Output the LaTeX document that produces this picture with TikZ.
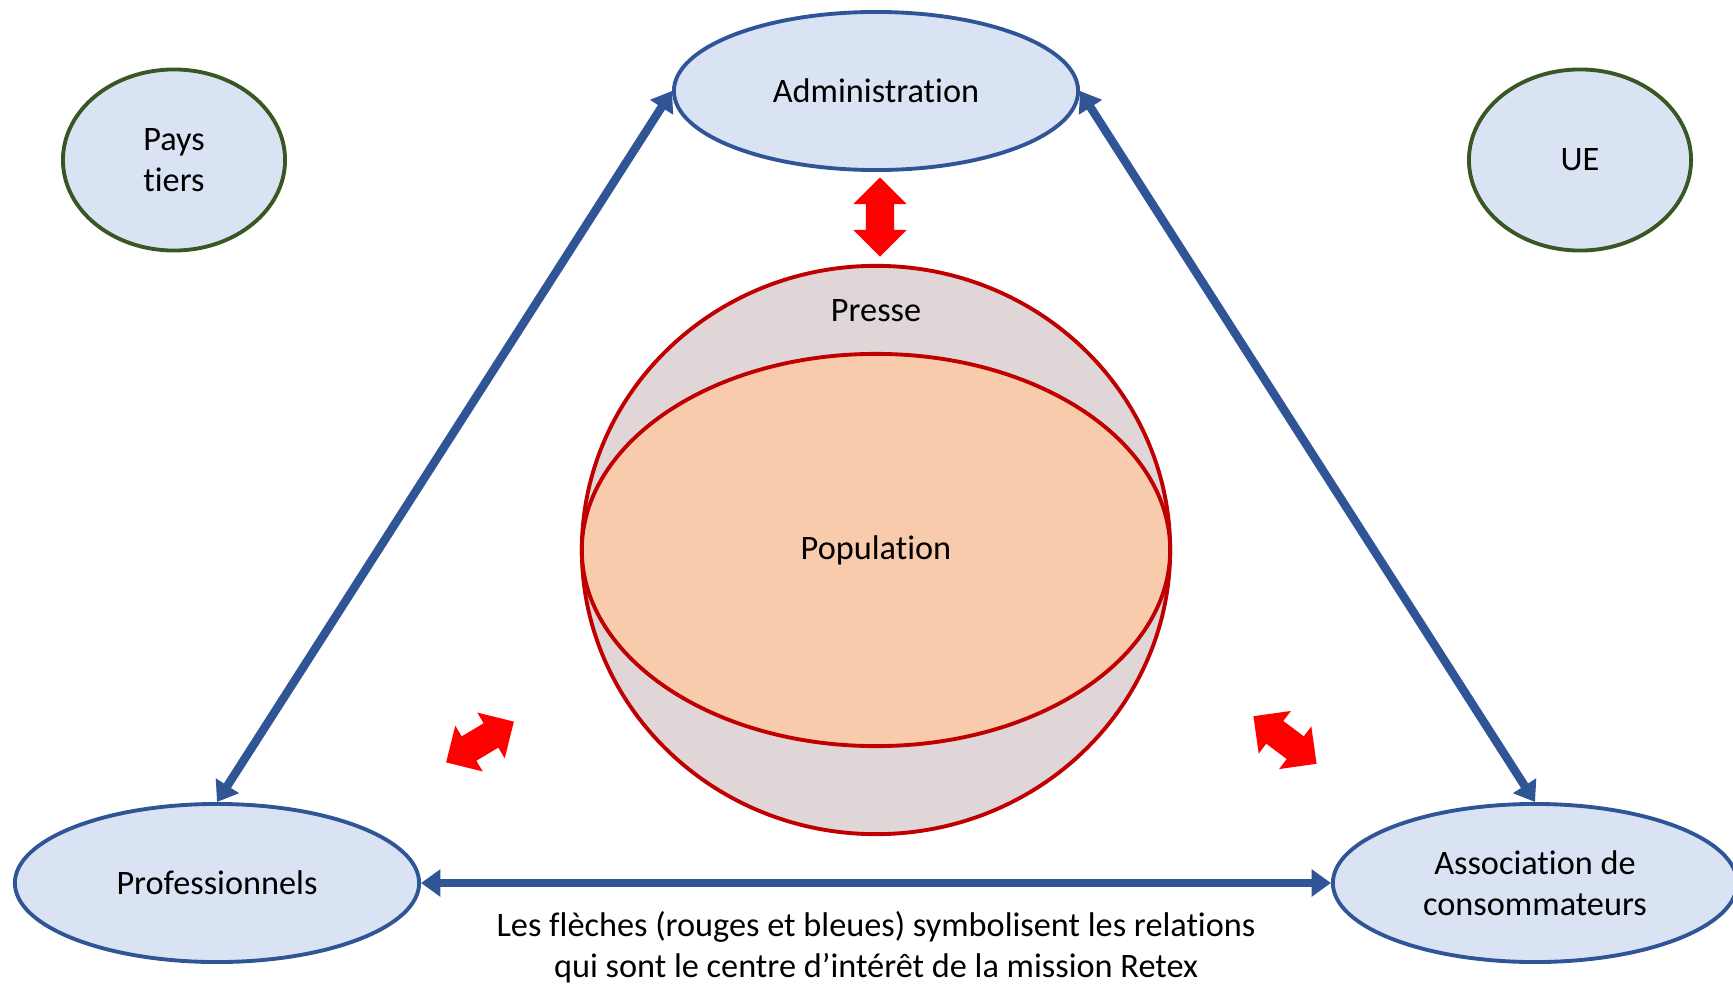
\documentclass[tikz,border=0pt]{standalone}
\usepackage{fontspec}
\setmainfont{Carlito}[Ligatures=NoCommon]
\usetikzlibrary{shapes.geometric,shapes.arrows,arrows.meta}
\definecolor{bordbleu}{HTML}{2F5597}
\definecolor{fondbleu}{HTML}{DAE3F3}
\definecolor{bordvert}{HTML}{385723}
\definecolor{fondpresse}{HTML}{E0D6D7}
\definecolor{fondpop}{HTML}{F8CBAD}
\definecolor{bordrouge}{HTML}{C00000}

\begin{document}
\begin{tikzpicture}[x=0.01cm, y=-0.01cm,
	every node/.style={font=\fontsize{9.75}{11.6}\selectfont, align=center, inner sep=0pt},
	acteur/.style={shape=ellipse, draw=bordbleu, fill=fondbleu, line width=1.1pt, minimum width=4.04cm, minimum height=1.58cm},
	externe/.style={shape=ellipse, draw=bordvert, fill=fondbleu, line width=1.1pt, minimum width=2.22cm, minimum height=1.81cm},
	sphere/.style={shape=ellipse, draw=bordrouge, line width=1.1pt, minimum width=5.88cm},
	lien/.style={color=bordbleu, line width=2.4pt, {Triangle[length=5.5pt,width=7.5pt]}-{Triangle[length=5.5pt,width=7.5pt]}},
	echange/.style={shape=double arrow, fill=red, inner sep=0.135cm, minimum height=0.79cm, double arrow head extend=0.125cm}]
	\useasboundingbox (0,0) rectangle (1733,985);

	\node[acteur] (admin) at (876,91) {Administration};
	\node[acteur] (pro) at (217,883) {Professionnels};
	\node[acteur] (asso) at (1535,883) {Association de\\consommateurs};
	\node[externe] (pays) at (174,160) {Pays\\tiers};
	\node[externe] (ue) at (1580,160) {UE};

	\node[sphere, fill=fondpresse, minimum height=5.68cm] (presse) at (876,550) {};
	\node[sphere, fill=fondpop, minimum height=3.92cm] (population) at (876,550) {Population};
	\node (titrepresse) at (876,311) {Presse};

	\path [lien] (admin.west) edge (pro.north);
	\path [lien] (admin.east) edge (asso.north);
	\path [lien] (pro.east) edge (asso.west);

	\node[echange, rotate=90] (fadmin) at (880,217) {};
	\node[echange, rotate=31] (fpro) at (480,742) {};
	\node[echange, rotate=-37] (fasso) at (1285,740) {};

	\node (note) at (876,947) {Les flèches (rouges et bleues) symbolisent les relations\\qui sont le centre d’intérêt de la mission Retex};
\end{tikzpicture}
\end{document}
